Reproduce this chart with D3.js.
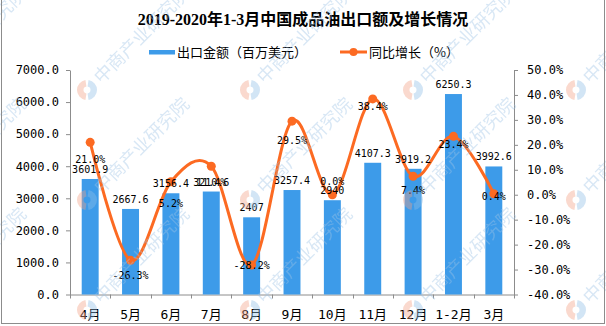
<!DOCTYPE html>
<html>
<head>
<meta charset="utf-8">
<script src="https://cdn.jsdelivr.net/npm/d3@7"></script>
<style>
  body { margin: 0; background: #fff; }
  svg { display: block; }
</style>
</head>
<body>
<div id="chart"></div>
<script>
const width = 606;
const height = 326;
const plot = { left: 70, right: 514, top: 70, bottom: 294.5 };

const categories = ["4月", "5月", "6月", "7月", "8月", "9月", "10月", "11月", "12月", "1-2月", "3月"];
const exportValues = [3601.9, 2667.6, 3156.4, 3210.6, 2407, 3257.4, 2940, 4107.3, 3919.2, 6250.3, 3992.6];
const growthValues = [21.0, -26.3, 5.2, 11.4, -28.2, 29.5, 0.0, 38.4, 7.4, 23.4, 0.4];
const leftTicks = [0, 1000, 2000, 3000, 4000, 5000, 6000, 7000];
const rightTicks = [-40, -30, -20, -10, 0, 10, 20, 30, 40, 50];

const title = "2019-2020年1-3月中国成品油出口额及增长情况";
const barName = "出口金额（百万美元）";
const lineName = "同比增长（%）";

// label nudges for the growth labels (px below the point), picked by eye
const growthLabelDy = [17.5, 15, 22, 16, 0, 19, -13, 8, 14, 8.5, 3];

const barColor = "#3d9be9";
const lineColor = "#fc6a22";
const axisColor = "#8c8c8c";
const monoFont = "'DejaVu Sans Mono', 'Noto Sans CJK SC', monospace";

const svg = d3.select("#chart")
  .append("svg")
  .attr("width", width)
  .attr("height", height);

let x, yLeft, yRight;

function generateScales() {
  x = d3.scaleBand()
    .domain(categories)
    .range([plot.left, plot.right])
    .padding(0);

  yLeft = d3.scaleLinear()
    .domain([0, 7000])
    .range([plot.bottom, plot.top]);

  yRight = d3.scaleLinear()
    .domain([-40, 50])
    .range([plot.bottom, plot.top]);
}

function styleAxis(g) {
  g.select(".domain").attr("stroke", axisColor);
  g.selectAll(".tick line").attr("stroke", axisColor);
  g.selectAll(".tick text")
    .attr("fill", "#000")
    .style("font-family", monoFont)
    .style("font-size", "12px");
}

function generateAxes() {
  const leftAxis = d3.axisLeft(yLeft)
    .tickValues(leftTicks)
    .tickSize(4)
    .tickSizeOuter(0)
    .tickPadding(7)
    .tickFormat(d => d.toFixed(1));

  svg.append("g")
    .attr("transform", `translate(${plot.left},0)`)
    .call(leftAxis)
    .call(styleAxis);

  const rightAxis = d3.axisRight(yRight)
    .tickValues(rightTicks)
    .tickSize(4)
    .tickSizeOuter(0)
    .tickPadding(9)
    .tickFormat(d => d.toFixed(1) + "%");

  svg.append("g")
    .attr("transform", `translate(${plot.right},0)`)
    .call(rightAxis)
    .call(styleAxis);

  const bottomAxis = d3.axisBottom(x)
    .tickSize(0)
    .tickSizeOuter(0)
    .tickPadding(15);

  const xg = svg.append("g")
    .attr("transform", `translate(0,${plot.bottom})`)
    .call(bottomAxis)
    .call(styleAxis);
  xg.selectAll(".tick text").style("font-size", "13px");

  // tick marks sit on the band edges
  const edges = categories.map(c => x(c)).concat([x.range()[1]]);
  xg.selectAll(".edge")
    .data(edges)
    .enter()
    .append("line")
    .attr("class", "edge")
    .attr("x1", d => Math.round(d) + 0.5)
    .attr("x2", d => Math.round(d) + 0.5)
    .attr("y1", 0)
    .attr("y2", 4)
    .attr("stroke", axisColor);
}

function fmtValue(v) {
  return Number.isInteger(v) ? String(v) : v.toFixed(1);
}

function generateBars() {
  const barWidth = x.bandwidth() * 0.42;
  const items = categories.map((c, i) => ({ c, v: exportValues[i] }));

  svg.append("g")
    .selectAll("rect")
    .data(items)
    .enter()
    .append("rect")
    .attr("x", d => x(d.c) + (x.bandwidth() - barWidth) / 2)
    .attr("y", d => yLeft(d.v))
    .attr("width", barWidth)
    .attr("height", d => plot.bottom - yLeft(d.v))
    .attr("fill", barColor);
}

function generateBarLabels() {
  const items = categories.map((c, i) => ({ c, v: exportValues[i] }));

  svg.append("g")
    .selectAll("text")
    .data(items)
    .enter()
    .append("text")
    .attr("x", d => x(d.c) + x.bandwidth() / 2)
    .attr("y", d => yLeft(d.v) - 6)
    .attr("text-anchor", "middle")
    .style("font-family", monoFont)
    .style("font-size", "10px")
    .text(d => fmtValue(d.v));
}

function generateLine() {
  const items = categories.map((c, i) => ({ c, v: growthValues[i], dy: growthLabelDy[i] }));
  const cx = d => x(d.c) + x.bandwidth() / 2;

  const line = d3.line()
    .x(cx)
    .y(d => yRight(d.v))
    .curve(d3.curveCardinal.tension(0));

  svg.append("path")
    .datum(items)
    .attr("d", line)
    .attr("fill", "none")
    .attr("stroke", lineColor)
    .attr("stroke-width", 3);

  svg.append("g")
    .selectAll("circle")
    .data(items)
    .enter()
    .append("circle")
    .attr("cx", cx)
    .attr("cy", d => yRight(d.v))
    .attr("r", 4.5)
    .attr("fill", lineColor);

  generateBarLabels();

  svg.append("g")
    .selectAll("text")
    .data(items)
    .enter()
    .append("text")
    .attr("x", cx)
    .attr("y", d => yRight(d.v) + d.dy)
    .attr("dy", "0.35em")
    .attr("text-anchor", "middle")
    .style("font-family", monoFont)
    .style("font-size", "10px")
    .text(d => d.v.toFixed(1) + "%");
}

function generateTitleAndLegend() {
  svg.append("text")
    .attr("x", width / 2)
    .attr("y", 25)
    .attr("text-anchor", "middle")
    .style("font-family", "'Liberation Serif', 'Noto Sans CJK SC', serif")
    .style("font-weight", "bold")
    .style("font-size", "16px")
    .text(title);

  const legend = svg.append("g").style("font-family", "'Noto Sans CJK SC', sans-serif").style("font-size", "13px");

  legend.append("rect")
    .attr("x", 149).attr("y", 50)
    .attr("width", 26).attr("height", 4.5)
    .attr("fill", barColor);
  legend.append("text")
    .attr("x", 177).attr("y", 52).attr("dy", "0.35em")
    .text(barName);

  legend.append("line")
    .attr("x1", 340).attr("x2", 367)
    .attr("y1", 52).attr("y2", 52)
    .attr("stroke", lineColor).attr("stroke-width", 3);
  legend.append("circle")
    .attr("cx", 353.5).attr("cy", 52).attr("r", 4)
    .attr("fill", lineColor);
  legend.append("text")
    .attr("x", 369).attr("y", 52).attr("dy", "0.35em")
    .text(lineName);
}

function generateWatermarks() {
  const wx = [-66, 97, 260, 423, 586];
  const wy = [80, 190, 300];
  const marks = [];
  wx.forEach(a => wy.forEach(b => marks.push([a, b])));

  const arc = d3.arc().innerRadius(3.5).outerRadius(10);
  const g = svg.append("g").attr("opacity", 0.4).style("pointer-events", "none");

  marks.forEach(([a, b]) => {
    const logo = g.append("g").attr("transform", `translate(${a - 10},${b + 10})`);
    logo.append("path")
      .attr("d", arc({ startAngle: -Math.PI * 0.95, endAngle: -Math.PI * 0.05 }))
      .attr("fill", "#f2a184");
    logo.append("path")
      .attr("d", arc({ startAngle: Math.PI * 0.05, endAngle: Math.PI * 0.95 }))
      .attr("fill", "#8fbde6");
    g.append("text")
      .attr("transform", `translate(${a},${b}) rotate(-45)`)
      .attr("dy", "0.35em")
      .style("font-family", "'Noto Sans CJK SC', sans-serif")
      .style("font-size", "18px")
      .attr("fill", "#9fc4e6")
      .text("中商产业研究院");
  });
}

function drawFrame() {
  svg.append("rect")
    .attr("x", 1.5).attr("y", -2)
    .attr("width", 603).attr("height", 325.5)
    .attr("fill", "none")
    .attr("stroke", "#8c8c8c");
}

generateScales();
generateAxes();
generateBars();
generateLine();
generateTitleAndLegend();
generateWatermarks();
drawFrame();
</script>
</body>
</html>
